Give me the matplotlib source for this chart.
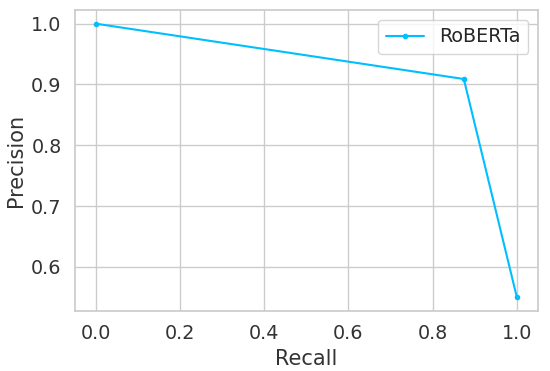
import numpy as np
import matplotlib
matplotlib.use('Agg')
import matplotlib.pyplot as plt
import seaborn as sns

# precision-recall points
recall = [0.0, 0.874, 1.0]
precision = [1.0, 0.909, 0.55]
model_name = 'RoBERTa'

sns.set_theme(style='whitegrid', font_scale=1.25)

fig, ax = plt.subplots(figsize=(5.5, 3.71), dpi=100)
fig.subplots_adjust(left=0.136, right=0.978, top=0.973, bottom=0.162)

ax.plot(recall, precision, marker='.', color='deepskyblue', label=model_name)
ax.set_xlabel('Recall', color='#333333')
ax.set_ylabel('Precision', color='#333333')
ax.tick_params(labelcolor='#333333')
ax.legend(loc='upper right')

plt.savefig('out.png', dpi=100)
